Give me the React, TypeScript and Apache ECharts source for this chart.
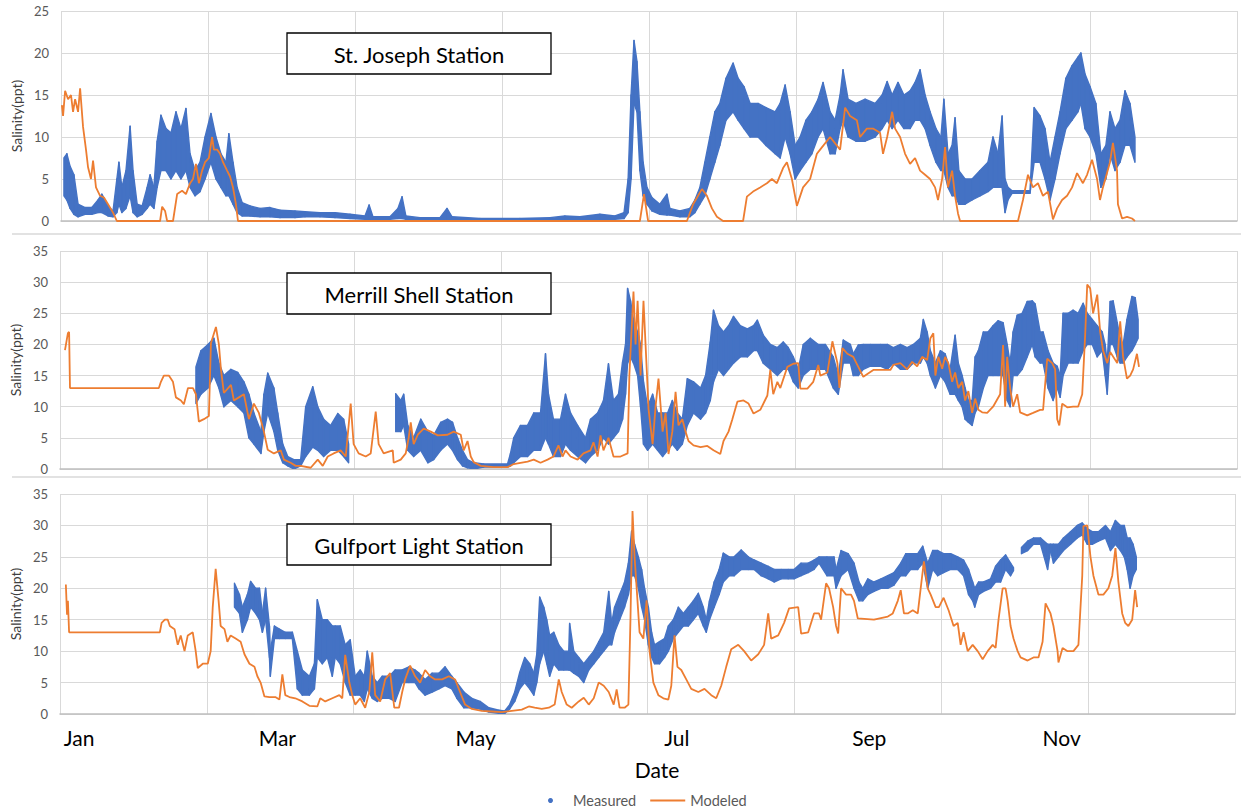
import React, { useEffect, useRef } from 'react';
import * as echarts from 'echarts';

const BLUE = '#4472C4';
const ORANGE = '#ED7D31';
const FONT = 'Lato, "Open Sans", sans-serif';

const stationNames = ['St. Joseph Station', 'Merrill Shell Station', 'Gulfport Light Station'];
const yMaxValues = [25, 35, 35];
const yTickStep = 5;
const dayAxisMax = 400;
const dayGridStep = 50;
const monthLabelDays = [6.5, 74, 141.5, 210, 275.5, 341];
const monthLabels = ['Jan', 'Mar', 'May', 'Jul', 'Sep', 'Nov'];

// [day, salinity]
const stJosephModeled = [
  [0.3, 13.8], [0.7, 12.5], [1.4, 15.5], [2.4, 14.5], [3.4, 15], [4.1, 13], [4.8, 14.5], [5.8, 13], [6.5, 15.8],
  [7.5, 11.2], [8.5, 8.5], [9.2, 6.4], [10.2, 5], [10.9, 7.2], [11.9, 4], [13.3, 3], [14.6, 2.8], [16.0, 2],
  [17.7, 1], [19.0, 0], [33.7, 0], [34.4, 1.7], [35.4, 1.2], [36.1, 0], [38.1, 0], [39.5, 3.2], [41.2, 3.6],
  [42.5, 3.2], [43.9, 4.5], [44.9, 5], [45.9, 6.8], [46.9, 4.5], [48.0, 6], [49.0, 7], [50.3, 7.5], [51.4, 10],
  [52.0, 8.5], [53.1, 8.5], [54.1, 8], [55.1, 7], [56.5, 6], [57.5, 5.3], [58.5, 4], [59.5, 2], [60.2, 0],
  [196.9, 0], [198.3, 3.2], [199.7, 0], [212.9, 0], [215.0, 2], [218.0, 3.8], [219.7, 3], [221.4, 1.5],
  [223.1, 0.5], [225.2, 0], [232.0, 0], [233.3, 2.9], [235.4, 3.5], [237.8, 4], [240.1, 4.5], [241.8, 5],
  [243.5, 4.5], [245.6, 6.3], [246.9, 7], [248.6, 5], [250.3, 1.8], [252.4, 4], [254.8, 5], [257.1, 8],
  [258.2, 8.5], [261.6, 10], [265.0, 8.5], [266.7, 13.5], [268.4, 12.5], [270.7, 12], [271.8, 10], [274.1, 11],
  [276.2, 11], [278.6, 10.5], [279.6, 8], [281.0, 10], [282.7, 13], [283.7, 11], [285.4, 10], [287.1, 8],
  [288.8, 6.8], [290.5, 7.5], [292.2, 6], [293.9, 5.5], [295.6, 5], [297.3, 4], [298.3, 2.5], [299.7, 5],
  [300.7, 8.8], [301.7, 4], [303.1, 6], [304.1, 3], [305.1, 0.9], [305.8, 0], [325.5, 0], [327.2, 2.5],
  [328.9, 5.5], [330.6, 4], [332.3, 4.5], [334.0, 3], [335.7, 3.5], [337.4, 0.2], [338.8, 1.5], [340.5, 2.5],
  [342.2, 3], [343.9, 4], [345.6, 5.7], [347.6, 4.5], [349.0, 5.5], [350.7, 7.3], [352.4, 5], [353.4, 2.5],
  [354.4, 4], [356.8, 7], [357.8, 9.3], [359.2, 6], [359.5, 2], [360.9, 0.3], [362.6, 0.5], [364.3, 0.3], [365.3, 0],
];

// [day, low, high]; null marks a gap in the record
const stJosephMeasured = [
  [1.0, 3, 7.5], [2.0, 2.5, 8], [3.1, 1.5, 6.5], [4.4, 0.8, 5.5], [5.8, 0.5, 2], [8.2, 0.8, 1.6], [10.5, 0.8, 1.6],
  [12.6, 1, 2.5], [13.9, 1, 3.2], [16.0, 0.6, 1.8], [17.7, 0.5, 1.2], [19.0, 1, 5], [19.7, 2, 7], [20.7, 1, 4],
  [22.1, 1.5, 6], [23.5, 3, 11.3], [24.5, 1, 6], [25.9, 0.5, 2], [27.6, 0.8, 1.8], [29.3, 1.5, 4], [30.3, 2, 5.5],
  [31.6, 1.5, 4], [32.7, 4, 9.5], [34.0, 6, 12.6], [35.7, 6, 11], [37.4, 5, 10.5], [39.1, 6, 13], [40.8, 5, 11],
  [42.5, 6, 13.4], [43.9, 4, 8], [45.6, 3, 6], [47.3, 3.5, 7], [49.0, 5, 10], [51.0, 7, 12.8], [52.7, 5, 10],
  [54.4, 4, 8], [56.1, 3, 7], [57.1, 3, 10.4], [58.5, 2, 7], [59.9, 1, 4], [61.6, 0.6, 2.2], [64.3, 0.6, 1.8],
  [67.7, 0.5, 1.5], [71.1, 0.5, 1.6], [74.5, 0.4, 1.3], [79.6, 0.4, 1.2], [83.0, 0.5, 1.1], [88.1, 0.5, 1.0],
  [93.2, 0.4, 1.0], [98.3, 0.3, 0.8], [103.4, 0.2, 0.6], [104.8, 0.2, 1.9], [106.1, 0.2, 0.5], [111.9, 0.2, 0.5],
  [114.6, 0.3, 1.5], [116.0, 0.3, 2.9], [117.3, 0.2, 0.6], [122.1, 0.2, 0.4], [128.9, 0.2, 0.4], [131.3, 0.2, 1.5],
  [133.0, 0.2, 0.5], [142.5, 0.2, 0.3], [156.1, 0.2, 0.3], [166.3, 0.2, 0.4], [171.4, 0.2, 0.6], [176.5, 0.2, 0.5],
  [183.3, 0.2, 0.8], [188.4, 0.2, 0.6], [191.5, 0.3, 1], [192.9, 1, 5], [193.9, 5, 15], [194.9, 14, 21.5],
  [195.9, 13, 19], [196.9, 6, 13], [198.0, 3, 7], [199.3, 2, 4], [201.0, 1.2, 2.8], [203.7, 0.8, 2],
  [206.1, 0.7, 3.2], [207.1, 0.7, 1.5], [210.5, 0.5, 1.2], [213.9, 0.5, 1.5], [215.6, 1, 2.5], [217.3, 2, 4],
  [219.0, 3, 7], [220.7, 5, 10], [222.4, 7, 13], [224.1, 9, 14], [226.2, 12, 17], [228.6, 13, 18.8],
  [230.3, 12, 17], [232.3, 11, 16], [234.4, 10, 14], [237.1, 10, 14], [239.8, 9, 13.5], [242.9, 8, 13],
  [244.6, 7.5, 14], [246.3, 10, 16.2], [248.0, 8, 13], [249.7, 5, 9], [251.4, 6, 10], [253.4, 7, 12],
  [255.4, 8, 13], [257.5, 10, 14.5], [259.2, 11, 16.5], [261.6, 8, 13], [263.3, 8, 12], [265.0, 11, 15],
  [266.0, 12, 18], [267.7, 10, 14.5], [270.4, 9.5, 14], [273.5, 9.5, 14.5], [276.9, 10, 14], [279.3, 11, 15],
  [281.0, 12, 16.6], [282.7, 11, 15], [284.7, 12, 16.5], [286.7, 11, 15], [288.8, 11, 15.5], [290.5, 12, 16.5],
  [292.2, 12, 18], [293.9, 11, 15], [295.6, 9, 13], [297.6, 7, 11], [299.3, 6, 10], [300.3, 6, 14.5],
  [301.7, 4, 8], [303.1, 3, 9], [304.1, 3, 12.3], [305.4, 2, 6], [307.5, 2, 5], [309.9, 2.5, 5], [312.6, 3, 6],
  [315.3, 3.5, 7], [317.0, 4, 10], [318.7, 4, 8], [320.1, 4, 12.5], [321.1, 1, 5], [322.1, 2.5, 4],
  [323.5, 3.3, 3.6], [329.6, 3.3, 3.6], [331.0, 7, 13.5], [333.0, 7, 12.5], [334.7, 5, 11], [336.4, 2.5, 7],
  [338.1, 5, 10], [339.8, 8, 13], [341.8, 11, 17], [343.9, 12, 18.5], [345.9, 13, 19.5], [346.9, 14, 20],
  [348.3, 11, 17.5], [350.0, 10, 16], [352.0, 8, 14], [353.7, 4, 8], [355.4, 5, 9], [356.8, 8, 13],
  [358.5, 6, 11], [360.2, 7, 12], [361.9, 9, 15.5], [363.6, 9, 14], [365.3, 7, 10],
];

const merrillModeled = [
  [1.7, 19.1], [2.7, 21.8], [3.1, 22], [3.4, 13], [33.6, 13], [34.3, 14], [35.3, 15], [37.0, 15], [38.4, 14],
  [39.4, 11.5], [41.1, 11], [42.1, 10.4], [43.5, 13], [45.2, 13], [46.2, 12], [47.2, 7.6], [48.9, 8], [50.6, 8.5],
  [51.3, 20.2], [53.0, 22.8], [54.0, 20], [54.7, 16], [55.7, 12.2], [58.1, 13.5], [59.1, 11], [60.8, 11.5],
  [62.5, 12], [64.2, 8], [65.9, 10.5], [67.6, 9], [69.3, 6], [70.6, 3.1], [72.7, 2.5], [75.0, 3], [76.1, 1.5],
  [78.4, 1], [80.1, 0.5], [81.8, 0.5], [85.2, 0.2], [87.6, 1.5], [89.3, 0.5], [91.0, 2], [93.0, 2.5], [95.4, 3],
  [97.1, 2], [98.8, 10.5], [99.8, 4], [101.5, 2.5], [103.9, 2], [105.6, 2.5], [107.3, 9.2], [108.3, 4],
  [110.0, 2.5], [113.1, 3], [113.4, 1], [115.8, 1.5], [117.5, 2.5], [118.5, 5], [119.2, 7.5], [120.2, 4],
  [121.6, 5.5], [123.6, 6.5], [126.0, 6], [128.4, 5.4], [131.7, 5.5], [133.8, 6], [136.2, 5.5], [137.2, 3],
  [138.5, 4.5], [139.6, 2], [140.6, 1.1], [143.0, 0.5], [147.4, 0.3], [152.1, 0.3], [154.2, 0.8], [156.5, 1],
  [158.9, 1.2], [161.0, 1.5], [163.3, 1], [165.7, 1.5], [167.7, 2], [169.4, 3.8], [170.8, 2], [171.8, 3],
  [173.5, 2], [175.9, 1.5], [177.9, 2.5], [180.3, 3], [181.3, 4.3], [182.7, 2], [183.7, 5.4], [184.7, 3],
  [186.4, 5], [188.1, 2], [190.5, 2], [192.9, 2.5], [193.5, 15], [194.9, 28.5], [195.6, 20], [196.3, 27],
  [197.3, 15], [198.3, 27], [199.0, 20], [199.7, 13], [200.0, 9.7], [201.4, 4], [202.4, 10], [203.4, 14.5],
  [204.8, 6], [205.8, 9], [206.8, 2.4], [208.1, 6], [209.2, 12.4], [210.2, 7], [211.5, 8], [212.6, 6],
  [213.6, 4.5], [215.3, 3.8], [217.7, 3.5], [220.0, 3.7], [222.1, 3], [224.4, 2.4], [225.5, 4.5], [227.2, 6],
  [228.5, 8], [230.2, 10.8], [232.3, 11], [234.0, 10.5], [235.7, 8.9], [238.0, 9.5], [240.4, 11.8], [241.4, 15.9],
  [242.4, 12], [243.8, 14], [244.8, 13], [247.2, 16.4], [249.2, 16.9], [250.9, 17], [251.6, 12.9], [254.0, 12.9],
  [256.0, 14], [257.7, 16.7], [258.4, 15], [260.8, 15.5], [262.5, 20.5], [264.2, 17], [264.9, 13], [265.9, 19.4],
  [267.6, 18.5], [269.6, 18], [271.3, 16.4], [273.0, 14.8], [276.4, 15.9], [282.2, 15.9], [283.2, 16.7],
  [285.6, 17], [287.9, 16], [289.6, 17.2], [291.3, 16.5], [293.0, 18], [294.7, 17.5], [295.8, 21], [296.8, 21.8],
  [297.5, 15], [298.5, 18], [299.8, 16.1], [300.8, 18], [301.9, 17], [303.2, 14], [304.2, 15.5], [305.3, 13],
  [306.6, 14], [307.6, 11], [308.7, 12.5], [310.0, 9], [311.0, 11.3], [312.1, 9.5], [313.4, 9.1], [315.1, 9],
  [317.1, 10], [319.5, 12], [320.5, 19.9], [321.2, 10], [321.9, 18], [322.9, 13], [323.9, 10], [325.3, 12],
  [326.3, 9.1], [328.7, 8.6], [330.7, 9], [333.1, 9.5], [334.1, 9.5], [335.5, 17.7], [337.2, 17], [338.2, 16],
  [338.9, 8], [339.6, 7], [340.6, 10.5], [342.3, 9.9], [344.3, 10], [346.0, 10], [347.4, 12], [348.4, 21.5],
  [349.1, 29.6], [350.1, 29], [351.1, 25], [352.5, 28], [353.5, 22], [354.5, 19], [355.9, 17], [356.9, 18.8],
  [359.3, 17], [360.3, 23.7], [361.3, 18], [362.6, 14.5], [363.7, 15], [364.7, 16], [366.0, 18.5], [366.7, 16.4],
];

const merrillMeasured = [
  [46.2, 10.5, 16.4], [47.9, 12, 19], [50.3, 13, 20], [52.3, 15, 21], [54.0, 13, 17], [55.7, 10, 15],
  [58.1, 11, 16], [60.4, 10, 15.5], [62.5, 9, 14], [64.2, 5, 12], [65.9, 4, 9], [68.3, 2.5, 6], [69.3, 6, 12],
  [70.6, 9, 15.4], [72.7, 6, 13], [74.0, 3, 9], [75.7, 1, 4], [77.4, 0.5, 2], [79.5, 0, 1.5], [81.8, 0.5, 1.5],
  [83.5, 2, 10], [85.9, 3.5, 13.2], [87.6, 3, 10], [89.6, 2, 8], [92.0, 3, 7], [94.4, 3, 8.9], [96.4, 2, 8],
  [98.1, 1, 4], null,
  [114.1, 6, 12.1], [115.8, 6, 11], [116.8, 7, 12], [118.2, 3, 7], [120.2, 2, 5], [122.6, 3, 8], [125.0, 1, 6],
  [127.0, 1.5, 5.4], [129.4, 3, 7.5], [131.7, 4, 8], [133.4, 3, 7.5], [135.1, 1.5, 5], [136.8, 0.5, 3],
  [138.5, 0.2, 1.5], [140.6, 0, 1], [144.0, 0.3, 0.8], [152.1, 0.3, 0.8], [153.1, 0.5, 2.5], [154.2, 1, 5],
  [156.5, 2, 7], [158.9, 2, 7], [161.0, 3, 9], [163.3, 3, 9], [165.0, 5, 18.5], [166.0, 4, 12], [167.7, 2, 8],
  [170.1, 2, 8], [171.8, 4, 12], [173.5, 3, 9], [175.9, 2, 7], [178.6, 1, 5], [180.3, 2, 8], [182.7, 3, 9],
  [184.7, 5, 11], [186.4, 4, 16.9], [188.1, 5, 11], [189.8, 6, 12], [191.2, 8, 17.2], [192.2, 12, 20],
  [192.9, 17, 29], [193.9, 18, 27], [194.9, 17, 24], [196.3, 15, 22], [197.3, 10, 20], [198.3, 4, 14],
  [199.7, 3, 10], [201.4, 4, 12], [203.1, 3, 9], [204.8, 2, 9], [206.5, 3, 9], [208.1, 4, 11], [209.8, 3, 9],
  [211.5, 4, 8], [213.2, 7, 14.5], [215.3, 9, 14], [217.7, 8, 13], [219.4, 9, 15], [221.0, 11, 20.4],
  [222.1, 14, 25.5], [223.8, 16, 23], [225.5, 15, 22], [227.2, 16, 23], [228.9, 17, 24.5], [231.2, 18, 23],
  [233.6, 18, 22.5], [235.7, 19, 23], [237.0, 19, 23.9], [239.0, 17, 21.5], [241.4, 16, 20], [243.8, 15, 19.5],
  [245.8, 16, 20.4], [247.5, 16, 19.5], [249.2, 14, 18], [250.9, 13, 16], [252.6, 15, 20], [255.0, 16, 21],
  [257.7, 16, 20], [260.1, 16, 20], [262.8, 13, 18], [264.5, 12, 15], [266.2, 17, 20.7], [268.6, 17, 20],
  [269.6, 15, 18.5], [271.3, 15, 19.9], [273.0, 16, 20], [275.4, 16.5, 20], [278.8, 16.5, 20], [281.2, 16, 20],
  [283.2, 17, 19.5], [285.6, 16, 20], [287.9, 16, 19.5], [290.0, 17, 20], [292.4, 17, 21], [293.4, 18, 24],
  [294.7, 17, 22], [295.8, 15, 19], [297.5, 13, 17], [299.2, 15, 19], [300.8, 14, 18.5], [302.5, 12, 16],
  [304.2, 12, 21.5], [305.3, 11, 17], [306.6, 10, 15], [307.6, 8, 13], [308.7, 7.5, 11], [310.0, 7, 11],
  [311.0, 9, 18], [312.1, 10, 19], [313.8, 13, 22], [315.4, 15, 22], [317.1, 15, 23], [318.8, 15, 23.8],
  [320.5, 15, 23.5], [321.9, 11, 20], [322.9, 10, 17], [323.9, 15, 22], [325.3, 15, 24.7], [327.0, 16, 25],
  [328.7, 18, 26.9], [330.4, 20, 27], [331.4, 18, 26.5], [333.1, 17, 22], [334.1, 17, 22], [335.8, 13, 19],
  [337.5, 11, 17], [338.9, 13, 16.5], [339.9, 11.5, 15], [340.9, 15, 25], [342.6, 17, 25], [344.3, 17, 25.5],
  [346.0, 17, 25], [347.7, 19, 26.6], [349.1, 20, 25], [350.8, 20, 24], [352.5, 18, 23], [354.2, 19, 22],
  [355.2, 15, 20], [355.9, 12, 17], [356.9, 20, 26.9], [357.9, 20, 27], [359.3, 18, 23.5], [360.3, 17, 21],
  [361.3, 17, 20], [362.6, 18, 24], [364.3, 19, 27.7], [365.4, 20, 27.5], [366.4, 21, 24],
];

const gulfportModeled = [
  [2.0, 20.6], [2.4, 15.8], [2.7, 18], [3.1, 13], [34.0, 13], [34.6, 14.5], [35.7, 15], [36.7, 15], [37.4, 14],
  [39.0, 13.5], [40.1, 11], [41.1, 12.5], [42.4, 10], [43.5, 12.5], [45.2, 13], [46.2, 10], [46.9, 7.3],
  [48.6, 8], [50.3, 8], [51.3, 10], [52.0, 17], [53.0, 23.1], [54.0, 18], [54.7, 14], [56.0, 13.5], [57.0, 11.5],
  [58.1, 12.5], [59.8, 12], [61.5, 11.5], [62.8, 9.5], [64.5, 8], [66.2, 7.5], [67.2, 6], [68.3, 5], [69.6, 2.8],
  [71.3, 2.7], [73.3, 2.7], [74.7, 2.3], [75.7, 6.3], [76.7, 3], [78.1, 2.7], [80.1, 2.5], [82.5, 2], [84.9, 1.3],
  [87.6, 1.2], [88.6, 2.5], [90.3, 2], [92.7, 2.5], [95.1, 3], [96.1, 2.5], [97.1, 9.4], [98.5, 5], [99.5, 3],
  [100.5, 1.5], [102.2, 2.5], [103.9, 1], [105.3, 3.5], [106.3, 9.8], [107.3, 3], [109.0, 2], [110.7, 5.5],
  [112.4, 6.5], [113.8, 1], [115.4, 1], [116.5, 3.5], [117.5, 5.5], [119.2, 7.7], [120.9, 6], [122.6, 5],
  [124.3, 7], [126.0, 6], [127.7, 5.5], [130.1, 5.5], [132.4, 6], [134.5, 5.5], [136.2, 3.5], [137.9, 1.5],
  [140.2, 0.8], [143.6, 0.5], [147.0, 0.4], [150.4, 0.3], [153.8, 0.5], [157.2, 0.7], [159.6, 1.2], [161.6, 1],
  [164.0, 0.8], [166.4, 1], [168.4, 1.5], [169.8, 5.5], [170.8, 3.5], [172.5, 1.5], [174.2, 1], [176.6, 2],
  [178.3, 2.6], [180.0, 1.5], [181.7, 2.5], [183.4, 5], [185.1, 4.5], [186.8, 3.5], [188.5, 1.5], [189.5, 3.9],
  [190.5, 1], [192.2, 1], [193.5, 1.5], [194.2, 15], [194.9, 32.3], [195.6, 25], [196.6, 18], [197.3, 13],
  [198.6, 12], [199.7, 18.1], [200.7, 10], [202.0, 5], [203.7, 3], [205.4, 2.5], [207.1, 2.3], [208.1, 4.5],
  [209.2, 12.5], [210.2, 7.5], [211.5, 7], [213.2, 5.5], [214.9, 4], [217.3, 3.5], [219.4, 4], [221.7, 3],
  [223.4, 2.5], [225.1, 4.5], [226.8, 7.5], [228.5, 10.3], [230.9, 11], [232.9, 10], [235.3, 8.5], [237.7, 9.5],
  [239.7, 11], [241.1, 16], [242.1, 12], [244.5, 12.5], [246.5, 14.5], [248.2, 16.8], [251.3, 17], [252.3, 12.8],
  [254.7, 13], [256.7, 16], [258.4, 16], [259.1, 15], [260.8, 20.8], [261.8, 20], [263.2, 17], [264.2, 14],
  [264.9, 12.8], [265.9, 20], [267.6, 19], [269.3, 19], [270.3, 18], [271.6, 15.2], [277.1, 15], [281.8, 15.5],
  [283.5, 16], [285.2, 18], [286.2, 19.7], [287.3, 16], [288.6, 16], [290.3, 16.5], [292.0, 16], [293.0, 20],
  [294.1, 24.3], [295.4, 20], [296.4, 19], [298.1, 17], [299.2, 17], [300.8, 18.5], [302.5, 16.5], [304.2, 14],
  [305.6, 14.5], [306.6, 11], [307.6, 13], [309.0, 10], [310.7, 11], [312.4, 10], [314.1, 8.7], [315.8, 10],
  [317.5, 11], [318.5, 10.5], [319.5, 15], [320.9, 20], [321.9, 20], [322.6, 18], [323.6, 14], [324.6, 12],
  [326.0, 10], [327.0, 9], [329.4, 8.5], [331.4, 9], [333.1, 9], [334.5, 11.5], [335.5, 17.6], [337.2, 16],
  [338.2, 14], [339.6, 10], [339.9, 8.2], [341.3, 10.5], [343.0, 10], [345.0, 10], [346.7, 11], [348.0, 22],
  [348.4, 29.9], [349.7, 30], [350.8, 25], [351.8, 22], [353.5, 19], [355.2, 19], [356.9, 20], [358.2, 22],
  [359.3, 26.4], [360.3, 21], [361.6, 16], [362.6, 14.5], [363.7, 14], [365.0, 15], [366.0, 19.7], [366.7, 17],
];

const gulfportMeasured = [
  [59.4, 17, 20.8], [61.1, 16, 19], [62.1, 13, 17], [63.8, 15, 19], [64.9, 17, 21.1], [66.6, 16, 20],
  [67.9, 15, 20], [68.9, 13, 16], [70.0, 15, 20], [71.3, 9, 14], [71.6, 6, 10], [73.0, 12, 14], [74.7, 12, 13.5],
  [76.7, 12, 13], [79.1, 12, 13], [80.8, 4, 10], [82.5, 3, 7], [84.9, 3, 6], [86.6, 4, 8], [87.6, 9, 18.2],
  [89.3, 8, 15], [91.0, 9, 15], [92.7, 6, 14], [93.7, 9, 14], [95.4, 8, 14], [97.1, 5, 11], [98.8, 3, 11.8],
  [100.5, 3, 6], [102.2, 3, 7], [103.6, 2, 6], [104.6, 4, 10], [106.3, 2.5, 6], [108.0, 2, 5], [109.7, 2.5, 6],
  [112.1, 2.5, 6], [114.1, 2, 7], [116.5, 5, 7], [118.8, 5, 7.5], [120.9, 5, 7], [122.2, 4, 6.5], [124.3, 3, 5.5],
  [126.7, 3.5, 6.5], [129.0, 4, 6.5], [131.1, 4.5, 7.5], [133.4, 4, 6], [135.1, 2.5, 5], [137.5, 1, 3.5],
  [140.2, 1, 2.5], [143.0, 0.8, 2], [146.0, 0.3, 1], [149.4, 0.1, 0.6], [151.4, 0.1, 0.5], [153.1, 0.8, 1.5],
  [154.8, 2, 3.5], [156.5, 4, 6.6], [158.2, 5, 9], [159.9, 4, 8], [161.3, 3, 6.5], [162.3, 5, 9.5],
  [163.3, 8, 18.6], [164.7, 10, 17], [165.7, 8, 15], [166.7, 6, 12.5], [168.1, 8, 13], [169.8, 7, 11],
  [171.5, 7, 10], [173.2, 7, 10], [173.5, 7, 14.4], [174.9, 6.5, 10], [176.6, 6, 9], [178.3, 5, 8], [180.0, 7, 9],
  [181.7, 8, 10], [183.4, 9, 11.5], [185.1, 10, 13], [186.8, 11, 19.5], [187.8, 11, 14.5], [188.8, 13, 17],
  [190.5, 15, 19], [192.2, 17, 21], [193.5, 19, 24], [194.6, 22, 29.1], [195.6, 22, 27], [196.9, 20, 25],
  [198.0, 17, 23], [199.0, 15, 20], [200.3, 11, 17], [201.4, 9, 13], [202.4, 8, 11], [204.1, 8, 11.5],
  [205.8, 9, 12], [207.1, 10, 14], [208.8, 12, 15], [210.5, 13, 17], [212.2, 14, 16], [213.9, 14, 17],
  [215.6, 15, 18], [217.3, 16, 19.2], [219.0, 14, 17], [220.0, 13, 15], [221.1, 15, 18], [222.7, 17, 21],
  [224.4, 19, 23], [225.8, 21, 25.6], [227.8, 22, 25], [229.5, 22, 25], [231.9, 23, 26.1], [234.3, 23, 25],
  [236.3, 23, 24.5], [238.7, 22, 24], [241.1, 21.5, 23.5], [243.1, 21, 23], [245.5, 21.5, 23], [247.9, 21.5, 23],
  [249.9, 21.5, 23], [252.3, 22, 24], [254.7, 22.5, 24], [256.7, 23, 24.5], [258.4, 24, 25], [261.1, 22, 25],
  [263.5, 22, 25], [264.2, 20, 23], [265.9, 22, 26], [268.3, 23, 25.5], [270.3, 20, 24], [272.0, 18, 21],
  [273.3, 18, 20], [275.0, 19, 21.5], [277.1, 19.5, 21], [279.5, 20, 21.5], [281.8, 20, 22], [283.9, 20.5, 22.5],
  [286.2, 22, 24], [287.9, 22, 25.5], [289.6, 23, 25.5], [292.0, 23, 25.5], [293.7, 24, 26.7], [295.4, 20, 24],
  [297.1, 23, 26], [298.8, 22, 26], [300.8, 22.5, 25.5], [303.2, 23, 25.5], [305.6, 23, 25], [307.6, 22, 24.5],
  [309.3, 19, 23], [310.7, 18, 21], [311.4, 17, 20], [312.7, 19, 21], [314.4, 19.5, 21], [316.8, 20, 21.5],
  [318.5, 21, 23.5], [320.2, 21, 24.5], [321.9, 23, 25.3], [323.6, 22, 24], [324.6, 22.8, 23.3], null,
  [327.3, 25.5, 26.5], [329.4, 26, 27.5], [331.4, 27, 28], [333.8, 27, 28], [336.2, 23, 27], [337.2, 26, 27],
  [338.2, 24, 27], [339.9, 25, 27], [341.6, 26, 28], [344.0, 27, 29], [346.3, 28, 30], [348.0, 28.5, 30.4],
  [349.7, 27, 29.5], [351.4, 27, 29], [353.5, 27.5, 29], [355.9, 28, 30], [357.6, 26, 29], [359.3, 27, 30.8],
  [361.0, 26, 30], [362.3, 25, 30], [363.3, 23, 28], [364.3, 20, 28], [365.3, 22, 27], [366.4, 23, 25],
];

const modeledSets = [stJosephModeled, merrillModeled, gulfportModeled];
const measuredSets = [stJosephMeasured, merrillMeasured, gulfportMeasured];

function splitSegments(rows: any[]) {
  const out: number[][][] = [];
  let cur: number[][] = [];
  rows.forEach((r) => {
    if (r === null) {
      if (cur.length) out.push(cur);
      cur = [];
    } else cur.push(r);
  });
  if (cur.length) out.push(cur);
  return out;
}

export default function App() {
  const ref = useRef<HTMLDivElement>(null);

  useEffect(() => {
    document.body.style.margin = '0';
    const chart = echarts.init(ref.current!, null, { renderer: 'svg' });

    const grids = [
      { left: 61, right: 4, top: 11, height: 210 },
      { left: 59, right: 4, top: 251, height: 218 },
      { left: 57, right: 6, top: 494, height: 220 },
    ];

    const xAxes: any[] = grids.map((_, gi) => ({
      type: 'value',
      gridIndex: gi,
      min: 0,
      max: dayAxisMax,
      interval: dayGridStep,
      position: 'bottom',
      axisLabel: { show: false },
      axisTick: { show: false },
      axisLine: { show: true, lineStyle: { color: '#bfbfbf', width: 1.5 } },
      splitLine: { show: true, lineStyle: { color: '#d9d9d9', width: 1 } },
    }));
    xAxes.push({
      type: 'value',
      gridIndex: 2,
      min: 0,
      max: dayAxisMax,
      position: 'bottom',
      axisLine: { show: false },
      axisTick: { show: false },
      splitLine: { show: false },
      axisLabel: {
        show: true,
        customValues: monthLabelDays,
        formatter: (v: number) => {
          const i = monthLabelDays.findIndex((d) => Math.abs(d - v) < 0.01);
          return i >= 0 ? monthLabels[i] : '';
        },
        fontSize: 21,
        color: '#000',
        margin: 13,
        fontFamily: FONT,
      },
    });

    const yAxes = grids.map((_, gi) => ({
      type: 'value',
      gridIndex: gi,
      min: 0,
      max: yMaxValues[gi],
      interval: yTickStep,
      name: 'Salinity(ppt)',
      nameLocation: 'middle',
      nameGap: 31,
      nameTextStyle: { fontSize: 14, color: '#404040', fontFamily: FONT },
      axisLabel: { color: '#595959', fontSize: 13, margin: 12, fontFamily: FONT },
      axisLine: { show: false },
      axisTick: { show: false },
      splitLine: { show: true, lineStyle: { color: '#d9d9d9', width: 1 } },
    }));

    const series: any[] = [];
    measuredSets.forEach((rows, gi) => {
      splitSegments(rows).forEach((seg) => {
        series.push({
          type: 'custom',
          name: 'Measured',
          xAxisIndex: gi,
          yAxisIndex: gi,
          clip: true,
          itemStyle: { color: BLUE },
          encode: { x: 0, y: [1, 2] },
          data: seg,
          renderItem: (params: any, api: any) => {
            const i = params.dataIndex;
            const a = seg[i];
            const b = seg[i + 1];
            if (!b) return { type: 'group', children: [] };
            const pts = [
              api.coord([a[0], a[1]]),
              api.coord([b[0], b[1]]),
              api.coord([b[0], b[2]]),
              api.coord([a[0], a[2]]),
            ];
            return {
              type: 'polygon',
              shape: { points: pts },
              style: { fill: BLUE, stroke: BLUE, lineWidth: 1.4, lineJoin: 'round' },
            };
          },
        });
      });
    });
    modeledSets.forEach((rows, gi) => {
      series.push({
        type: 'line',
        name: 'Modeled',
        xAxisIndex: gi,
        yAxisIndex: gi,
        data: rows,
        symbol: 'none',
        showSymbol: false,
        lineStyle: { color: ORANGE, width: 1.8 },
        itemStyle: { color: ORANGE },
        z: 3,
      });
    });

    const boxTops = [33, 273, 524];
    const graphic: any[] = [];
    [234, 477].forEach((y) => {
      graphic.push({
        type: 'line',
        shape: { x1: 12, y1: y, x2: 1241, y2: y },
        style: { stroke: '#d9d9d9', lineWidth: 1.5 },
        silent: true,
      });
    });
    stationNames.forEach((name, i) => {
      graphic.push({
        type: 'rect',
        shape: { x: 287, y: boxTops[i], width: 264, height: 41 },
        style: { fill: '#fff', stroke: '#000', lineWidth: 1.3 },
        z: 100,
      });
      graphic.push({
        type: 'text',
        x: 419,
        y: boxTops[i] + 21,
        style: {
          text: name,
          fontSize: 22,
          fontFamily: FONT,
          fontWeight: 'normal',
          fill: '#000',
          align: 'center',
          verticalAlign: 'middle',
        },
        z: 101,
      });
    });
    graphic.push({
      type: 'text',
      x: 657,
      y: 769,
      style: { text: 'Date', fontSize: 21, fontFamily: FONT, fill: '#000', align: 'center', verticalAlign: 'middle' },
    });

    chart.setOption({
      animation: false,
      backgroundColor: '#fff',
      grid: grids,
      xAxis: xAxes,
      yAxis: yAxes,
      legend: {
        data: [
          { name: 'Measured', icon: 'circle' },
          { name: 'Modeled', icon: 'path://M0,0h35v1.8h-35z' },
        ],
        left: 543,
        top: 788,
        itemWidth: 35,
        itemHeight: 5,
        itemGap: 14,
        selectedMode: false,
        textStyle: { color: '#595959', fontSize: 14.5, fontFamily: FONT },
      },
      series,
      graphic,
    });

    return () => chart.dispose();
  }, []);

  return (
    <div
      ref={ref}
      style={{ position: 'fixed', left: 0, top: 0, width: 1241, height: 809, background: '#fff' }}
    />
  );
}
